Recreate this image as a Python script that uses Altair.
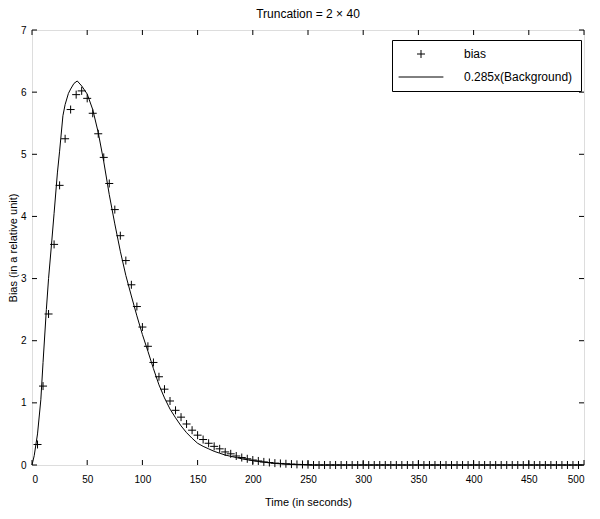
import altair as alt
import pandas as pd

# ---- data ----
bias_t = list(range(5, 500, 5))
bias_v = [0.33, 1.27, 2.43, 3.55, 4.50, 5.25, 5.72, 5.96, 6.02, 5.90,
          5.66, 5.33, 4.95, 4.53, 4.11, 3.69, 3.29, 2.90, 2.55, 2.22,
          1.91, 1.65, 1.42, 1.22, 1.03, 0.88, 0.77, 0.66, 0.56, 0.48,
          0.41, 0.35, 0.30, 0.26, 0.21, 0.18, 0.145, 0.12, 0.10, 0.08,
          0.065, 0.05, 0.04, 0.03, 0.025, 0.02, 0.015, 0.01, 0.008, 0.005,
          0, 0, 0, 0, 0, 0, 0, 0, 0, 0,
          0, 0, 0, 0, 0, 0, 0, 0, 0, 0,
          0, 0, 0, 0, 0, 0, 0, 0, 0, 0,
          0, 0, 0, 0, 0, 0, 0, 0, 0, 0,
          0, 0, 0, 0, 0, 0, 0, 0, 0]

bg_t = [0, 2, 5, 8, 10, 13, 15, 18, 20, 23, 25, 28, 30, 33, 35, 38, 41, 45, 50,
        55, 60, 65, 70, 75, 80, 85, 90, 95, 100, 105, 110, 115, 120, 125,
        130, 135, 140, 145, 150, 155, 160, 165, 170, 175, 180, 185, 190,
        195, 200, 210, 220, 230, 240, 250, 300, 400, 500]
bg_v = [0.0, 0.15, 0.50, 1.05, 1.65, 2.50, 3.00, 3.62, 4.05, 4.70, 5.05, 5.62,
        5.80, 5.98, 6.05, 6.14, 6.18, 6.10, 5.97,
        5.72, 5.35, 4.88, 4.35, 3.88, 3.44, 3.05, 2.72, 2.40, 2.10, 1.83,
        1.55, 1.29, 1.08, 0.90, 0.76, 0.63, 0.52, 0.43, 0.35, 0.30, 0.26,
        0.22, 0.19, 0.16, 0.14, 0.12, 0.10, 0.085, 0.07, 0.045, 0.025,
        0.012, 0.005, 0.0, 0.0, 0.0, 0.0]

x_ticks = [0, 50, 100, 150, 200, 250, 300, 350, 400, 450, 500]
y_ticks = [0, 1, 2, 3, 4, 5, 6, 7]

series_names = ["bias", "0.285x(Background)"]
cross_path = "M-1,0L1,0M0,-1L0,1"
line_path = "M-5.6,0L5.6,0"

W, H = 552, 435
FONT = "Liberation Sans"

bias_df = pd.DataFrame({"t": bias_t, "v": bias_v, "series": "bias"})
bg_df = pd.DataFrame({"t": bg_t, "v": bg_v})
xt_df = pd.DataFrame({"t": x_ticks})
yt_df = pd.DataFrame({"v": y_ticks})

xscale = alt.Scale(domain=[0, 500], nice=False, zero=False)
yscale = alt.Scale(domain=[0, 7], nice=False)

xaxis = alt.Axis(values=x_ticks, format="d", tickSize=0, domain=False, grid=False,
                 labelPadding=9, titlePadding=12, title="Time (in seconds)",
                 titleFontWeight="normal")
yaxis = alt.Axis(values=y_ticks, format="d", tickSize=0, domain=False, grid=False,
                 labelPadding=6, title="Bias (in a relative unit)",
                 titleFontWeight="normal", titleX=-19, titleY=H / 2,
                 titleAngle=270, titleBaseline="middle", titleAlign="center")

line = alt.Chart(bg_df).mark_line(color="black", strokeWidth=1).encode(
    x=alt.X("t:Q", scale=xscale, axis=xaxis),
    y=alt.Y("v:Q", scale=yscale, axis=yaxis),
)

points = alt.Chart(bias_df).mark_point(
    filled=False, color="black", strokeWidth=1, size=64, opacity=1
).encode(
    x=alt.X("t:Q", scale=xscale),
    y=alt.Y("v:Q", scale=yscale),
    shape=alt.Shape(
        "series:N",
        scale=alt.Scale(domain=series_names, range=[cross_path, line_path]),
        legend=alt.Legend(
            title=None, orient="none", legendX=360, legendY=10,
            padding=8, rowPadding=11, symbolOffset=15, labelOffset=37,
            strokeColor="black", fillColor="white",
            symbolSize=64, symbolStrokeColor="black", symbolStrokeWidth=1,
            symbolFillColor="transparent",
            labelFont=FONT, labelFontSize=12, labelColor="black",
        ),
    ),
)

bottom_ticks = alt.Chart(xt_df).mark_rule(color="black", strokeWidth=1).encode(
    x=alt.X("t:Q", scale=xscale), y=alt.value(H), y2=alt.value(H - 5))
top_ticks = alt.Chart(xt_df).mark_rule(color="black", strokeWidth=1).encode(
    x=alt.X("t:Q", scale=xscale), y=alt.value(0), y2=alt.value(5))
left_ticks = alt.Chart(yt_df).mark_rule(color="black", strokeWidth=1).encode(
    y=alt.Y("v:Q", scale=yscale), x=alt.value(0), x2=alt.value(5))
right_ticks = alt.Chart(yt_df).mark_rule(color="black", strokeWidth=1).encode(
    y=alt.Y("v:Q", scale=yscale), x=alt.value(W), x2=alt.value(W - 5))

chart = alt.layer(
    bottom_ticks, top_ticks, left_ticks, right_ticks, line, points
).properties(
    width=W, height=H,
    title=alt.TitleParams("Truncation = 2 × 40", font=FONT, fontSize=12,
                          fontWeight="normal", color="black", offset=4),
    autosize=alt.AutoSizeParams(type="none"),
    padding={"left": 24, "top": 22, "right": 8, "bottom": 52},
).configure_view(
    stroke="black", strokeWidth=1
).configure_axis(
    labelFont=FONT, labelFontSize=12, labelColor="black",
    titleFont=FONT, titleFontSize=12, titleFontWeight="normal", titleColor="black",
).configure(background="white")

chart.save("out.html", embed_options={"renderer": "svg", "actions": False})
